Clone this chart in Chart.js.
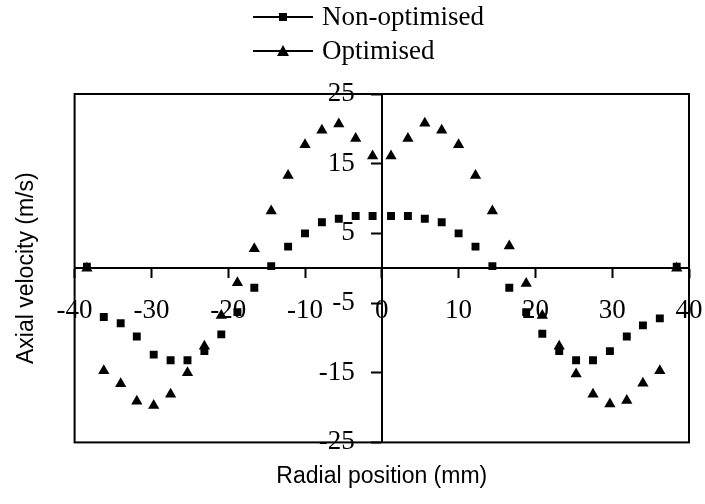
<!DOCTYPE html>
<html>
<head>
<meta charset="utf-8">
<script src="https://cdn.jsdelivr.net/npm/chart.js@4/dist/chart.umd.min.js"></script>
<style>
  html, body { margin: 0; padding: 0; background: #fff; }
  #wrap { width: 705px; height: 504px; }
</style>
</head>
<body>
<div id="wrap"><canvas id="velChart" width="705" height="504"></canvas></div>
<script>
// radial positions (mm), same for both series
const radialPos = [-38.4, -36.2, -34.0, -31.9, -29.7, -27.5, -25.3, -23.1, -20.9, -18.8, -16.6, -14.4,
                   -12.2, -10.0, -7.8, -5.6, -3.4, -1.2, 1.2, 3.4, 5.6, 7.8, 10.0, 12.2,
                   14.4, 16.6, 18.8, 20.9, 23.1, 25.3, 27.5, 29.7, 31.9, 34.0, 36.2, 38.4];

// axial velocity (m/s)
const nonOptimised = [0.2, -7.0, -7.9, -9.8, -12.4, -13.2, -13.2, -11.9, -9.5, -6.3, -2.8, 0.3,
                      3.1, 5.0, 6.6, 7.1, 7.5, 7.5, 7.5, 7.5, 7.1, 6.6, 5.0, 3.1,
                      0.3, -2.8, -6.3, -9.4, -11.9, -13.2, -13.2, -11.9, -9.8, -8.2, -7.2, 0.2];
const optimised = [0.0, -14.7, -16.6, -19.1, -19.7, -18.1, -15.0, -11.2, -6.8, -2.1, 2.8, 8.2,
                   13.3, 17.7, 19.8, 20.7, 18.6, 16.1, 16.1, 18.6, 20.8, 19.8, 17.7, 13.3,
                   8.2, 3.2, -2.2, -6.8, -11.2, -15.2, -18.1, -19.5, -19.0, -16.5, -14.7, 0.0];

const seriesNames = ["Non-optimised", "Optimised"];
const xTitle = "Radial position (mm)";
const yTitle = "Axial velocity (m/s)";

const serif = "'Liberation Serif', 'Times New Roman', serif";
const sans = "'Liberation Sans', Arial, sans-serif";

function toPoints(ys) {
    return radialPos.map((x, i) => ({ x: x, y: ys[i] }));
}

// box round the plot area
const frame = {
    id: 'frame',
    afterDraw(chart) {
        const { ctx, chartArea: a } = chart;
        ctx.save();
        ctx.strokeStyle = '#000';
        ctx.lineWidth = 2;
        ctx.strokeRect(a.left, a.top, a.right - a.left, a.bottom - a.top);
        ctx.restore();
    }
};

// legend in two rows: line with marker, then the name
const lineLegend = {
    id: 'lineLegend',
    afterDraw(chart) {
        const ctx = chart.ctx;
        const rows = [17, 51];
        ctx.save();
        chart.data.datasets.forEach((ds, i) => {
            const y = rows[i];
            ctx.strokeStyle = '#000';
            ctx.lineWidth = 2;
            ctx.beginPath();
            ctx.moveTo(253, y);
            ctx.lineTo(313, y);
            ctx.stroke();
            ctx.fillStyle = '#000';
            if (ds.pointStyle === 'rect') {
                ctx.fillRect(279, y - 4, 8, 8);
            } else {
                ctx.beginPath();
                ctx.moveTo(283, y - 6);
                ctx.lineTo(289, y + 5);
                ctx.lineTo(277, y + 5);
                ctx.closePath();
                ctx.fill();
            }
            ctx.font = '27px ' + serif;
            ctx.textAlign = 'left';
            ctx.textBaseline = 'middle';
            ctx.fillText(ds.label, 322, y + 1);
        });
        ctx.restore();
    }
};

new Chart(document.getElementById('velChart'), {
    type: 'scatter',
    data: {
        datasets: [
            {
                label: seriesNames[0],
                data: toPoints(nonOptimised),
                pointStyle: 'rect',
                pointRadius: 5.6,
                backgroundColor: '#000',
                borderColor: '#000',
                borderWidth: 0,
                showLine: false
            },
            {
                label: seriesNames[1],
                data: toPoints(optimised),
                pointStyle: 'triangle',
                pointRadius: 6.5,
                backgroundColor: '#000',
                borderColor: '#000',
                borderWidth: 0,
                showLine: false
            }
        ]
    },
    options: {
        responsive: false,
        animation: false,
        layout: { padding: { top: 94, right: 16, bottom: 0, left: 0 } },
        plugins: {
            legend: { display: false },
            tooltip: { enabled: false }
        },
        scales: {
            x: {
                type: 'linear',
                position: { y: 0 },
                min: -40,
                max: 40,
                ticks: {
                    stepSize: 10,
                    autoSkip: false,
                    maxRotation: 0,
                    padding: 18,
                    color: '#000',
                    font: { family: serif, size: 27 }
                },
                grid: { drawOnChartArea: false, tickLength: 9, tickWidth: 2, tickColor: '#000' },
                border: { color: '#000', width: 2 },
                // end labels may hang over the frame, don't shrink the plot for them
                afterFit: (s) => { s.paddingLeft = 0; s.paddingRight = 0; }
            },
            y: {
                type: 'linear',
                position: { x: 0 },
                min: -25,
                max: 25,
                ticks: {
                    stepSize: 10,
                    padding: 15,
                    color: '#000',
                    font: { family: serif, size: 27 },
                    callback: (v) => v + '\u2003'
                },
                grid: { drawOnChartArea: false, tickLength: 10, tickWidth: 2, tickColor: '#000' },
                border: { color: '#000', width: 2 }
            },
            xt: {
                type: 'linear',
                axis: 'x',
                position: 'bottom',
                ticks: { display: false },
                grid: { display: false, drawTicks: false },
                border: { display: false },
                title: {
                    display: true,
                    text: xTitle,
                    color: '#000',
                    font: { family: sans, size: 23 },
                    padding: { top: 20, bottom: 14 }
                }
            },
            yt: {
                type: 'linear',
                axis: 'y',
                position: 'left',
                ticks: { display: false },
                grid: { display: false, drawTicks: false },
                border: { display: false },
                title: {
                    display: true,
                    text: yTitle,
                    color: '#000',
                    font: { family: sans, size: 23 },
                    padding: { top: 13, bottom: 34 }
                }
            }
        }
    },
    plugins: [frame, lineLegend]
});
</script>
</body>
</html>
